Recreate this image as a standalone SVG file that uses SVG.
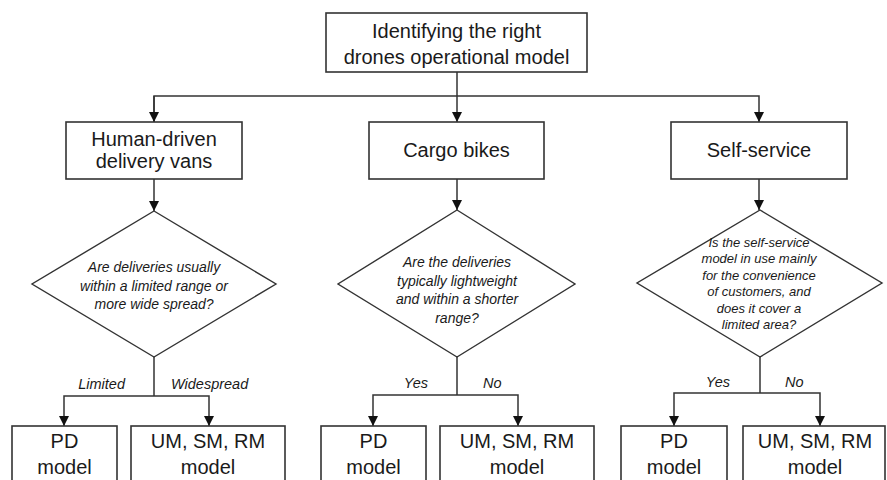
<svg xmlns="http://www.w3.org/2000/svg" width="887" height="480" viewBox="0 0 887 480">
  <style>
    .box { fill: #ffffff; stroke: #333333; stroke-width: 1.6; }
    .dia { fill: #ffffff; stroke: #333333; stroke-width: 1.4; }
    .wire { fill: none; stroke: #333333; stroke-width: 1.5; }
    .t { font-family: "Liberation Sans", Arial, sans-serif; font-size: 20px; fill: #1a1a1a; text-anchor: middle; }
    .q { font-family: "Liberation Sans", Arial, sans-serif; font-size: 14px; font-style: italic; fill: #1a1a1a; text-anchor: middle; }
    .q13 { font-size: 13px; }
    .lbl { font-family: "Liberation Sans", Arial, sans-serif; font-size: 14.5px; font-style: italic; fill: #1a1a1a; }
  </style>
  <defs>
    <marker id="arrow" viewBox="0 0 10 10" refX="10" refY="5" markerWidth="10" markerHeight="10" markerUnits="userSpaceOnUse" orient="auto">
      <path d="M0,0 L10,5 L0,10 Z" fill="#111111"/>
    </marker>
  </defs>

  <rect width="887" height="480" fill="#ffffff"/>

  <!-- connectors -->
  <g id="connectors">
    <path class="wire" d="M457,72 V122" marker-end="url(#arrow)"/>
    <path class="wire" d="M154,122 V96 H759 V122" marker-end="url(#arrow)"/>
    <path class="wire" d="M154,96 V122" marker-end="url(#arrow)"/>
    <path class="wire" d="M154,179 V211" marker-end="url(#arrow)"/>
    <path class="wire" d="M457,179 V210" marker-end="url(#arrow)"/>
    <path class="wire" d="M759,179 V210" marker-end="url(#arrow)"/>

    <path class="wire" d="M154,357 V396"/>
    <path class="wire" d="M154,396 H64 V426" marker-end="url(#arrow)"/>
    <path class="wire" d="M154,396 H209 V426" marker-end="url(#arrow)"/>

    <path class="wire" d="M457,357 V395"/>
    <path class="wire" d="M457,395 H373 V426" marker-end="url(#arrow)"/>
    <path class="wire" d="M457,395 H518 V426" marker-end="url(#arrow)"/>

    <path class="wire" d="M760,357 V393"/>
    <path class="wire" d="M760,393 H674 V426" marker-end="url(#arrow)"/>
    <path class="wire" d="M760,393 H820 V426" marker-end="url(#arrow)"/>

    <text class="lbl" x="125" y="389" text-anchor="end">Limited</text>
    <text class="lbl" x="171" y="389">Widespread</text>
    <text class="lbl" x="428" y="388" text-anchor="end">Yes</text>
    <text class="lbl" x="483" y="388">No</text>
    <text class="lbl" x="730" y="387" text-anchor="end">Yes</text>
    <text class="lbl" x="785" y="387">No</text>
  </g>

  <!-- root -->
  <g id="root">
    <rect class="box" x="326" y="13" width="261" height="59"/>
    <text class="t" x="456.5" y="38">Identifying the right</text>
    <text class="t" x="456.5" y="64">drones operational model</text>
  </g>

  <!-- delivery modes -->
  <g id="vans">
    <rect class="box" x="66" y="122" width="176" height="57"/>
    <text class="t" x="154" y="146">Human-driven</text>
    <text class="t" x="154" y="168">delivery vans</text>
  </g>
  <g id="bikes">
    <rect class="box" x="369" y="122" width="175" height="57"/>
    <text class="t" x="456.5" y="157">Cargo bikes</text>
  </g>
  <g id="selfservice">
    <rect class="box" x="671" y="122" width="176" height="57"/>
    <text class="t" x="759" y="157">Self-service</text>
  </g>

  <!-- decisions -->
  <g id="q-vans">
    <polygon class="dia" points="154,211 276,284 154,357 32,284"/>
    <text class="q" x="154" y="272">Are deliveries usually</text>
    <text class="q" x="154" y="290.5">within a limited range or</text>
    <text class="q" x="154" y="309">more wide spread?</text>
  </g>
  <g id="q-bikes">
    <polygon class="dia" points="457,210 575,284 457,357 338,284"/>
    <text class="q" x="457" y="267">Are the deliveries</text>
    <text class="q" x="457" y="285.5">typically lightweight</text>
    <text class="q" x="457" y="304">and within a shorter</text>
    <text class="q" x="457" y="322.5">range?</text>
  </g>
  <g id="q-selfservice">
    <polygon class="dia" points="760,210 882,283 760,357 637,283"/>
    <text class="q q13" x="759" y="247">Is the self-service</text>
    <text class="q q13" x="759" y="263.4">model in use mainly</text>
    <text class="q q13" x="759" y="279.8">for the convenience</text>
    <text class="q q13" x="759" y="296.2">of customers, and</text>
    <text class="q q13" x="759" y="312.6">does it cover a</text>
    <text class="q q13" x="759" y="329">limited area?</text>
  </g>

  <!-- outcomes -->
  <g id="pd-vans">
    <rect class="box" x="12" y="426" width="105" height="70"/>
    <text class="t" x="64.5" y="448">PD</text>
    <text class="t" x="64.5" y="474">model</text>
  </g>
  <g id="um-vans">
    <rect class="box" x="131" y="426" width="154" height="70"/>
    <text class="t" x="208" y="448">UM, SM, RM</text>
    <text class="t" x="208" y="474">model</text>
  </g>
  <g id="pd-bikes">
    <rect class="box" x="321" y="426" width="105" height="70"/>
    <text class="t" x="373.5" y="448">PD</text>
    <text class="t" x="373.5" y="474">model</text>
  </g>
  <g id="um-bikes">
    <rect class="box" x="440" y="426" width="154" height="70"/>
    <text class="t" x="517" y="448">UM, SM, RM</text>
    <text class="t" x="517" y="474">model</text>
  </g>
  <g id="pd-selfservice">
    <rect class="box" x="621" y="426" width="106" height="70"/>
    <text class="t" x="674" y="448">PD</text>
    <text class="t" x="674" y="474">model</text>
  </g>
  <g id="um-selfservice">
    <rect class="box" x="743" y="426" width="142" height="70"/>
    <text class="t" x="815" y="448">UM, SM, RM</text>
    <text class="t" x="815" y="474">model</text>
  </g>
</svg>
